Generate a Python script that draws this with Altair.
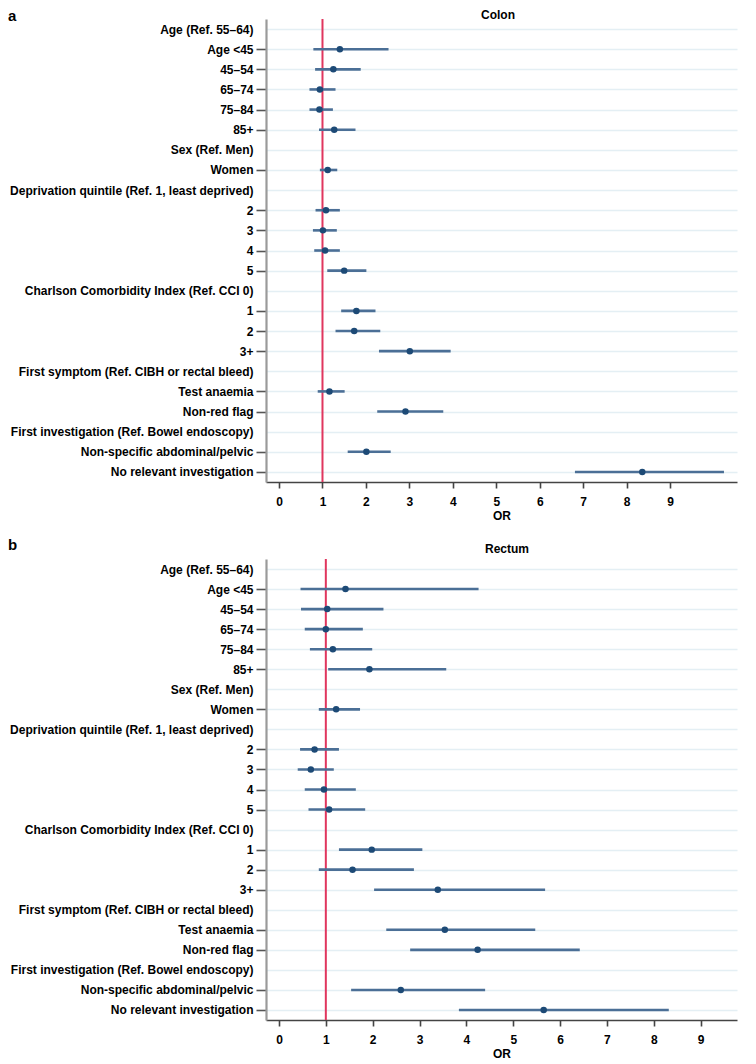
import altair as alt
import pandas as pd

labels = [
    "Age (Ref. 55–64)", "Age <45", "45–54", "65–74", "75–84", "85+",
    "Sex (Ref. Men)", "Women",
    "Deprivation quintile (Ref. 1, least deprived)", "2", "3", "4", "5",
    "Charlson Comorbidity Index (Ref. CCI 0)", "1", "2 ", "3+",
    "First symptom (Ref. CIBH or rectal bleed)", "Test anaemia", "Non-red flag",
    "First investigation (Ref. Bowel endoscopy)", "Non-specific abdominal/pelvic",
    "No relevant investigation",
]

N = None
colon_or = [N, 1.40, 1.25, 0.94, 0.93, 1.27, N, 1.12, N, 1.08, 1.01, 1.06, 1.50,
            N, 1.78, 1.73, 3.01, N, 1.16, 2.91, N, 2.01, 8.36]
colon_lo = [N, 0.79, 0.83, 0.70, 0.70, 0.92, N, 0.94, N, 0.84, 0.78, 0.81, 1.11,
            N, 1.43, 1.30, 2.30, N, 0.89, 2.26, N, 1.58, 6.81]
colon_hi = [N, 2.52, 1.88, 1.30, 1.24, 1.76, N, 1.34, N, 1.40, 1.33, 1.40, 2.01,
            N, 2.22, 2.33, 3.95, N, 1.51, 3.78, N, 2.57, 10.24]

rectum_or = [N, 1.42, 1.03, 1.00, 1.15, 1.93, N, 1.22, N, 0.76, 0.68, 0.96, 1.07,
             N, 1.98, 1.57, 3.39, N, 3.54, 4.24, N, 2.60, 5.65]
rectum_lo = [N, 0.46, 0.47, 0.55, 0.66, 1.05, N, 0.85, N, 0.45, 0.40, 0.55, 0.63,
             N, 1.28, 0.85, 2.03, N, 2.29, 2.80, N, 1.54, 3.84]
rectum_hi = [N, 4.26, 2.23, 1.79, 1.99, 3.57, N, 1.73, N, 1.28, 1.17, 1.64, 1.84,
             N, 3.06, 2.88, 5.68, N, 5.47, 6.42, N, 4.40, 8.32]

x_ticks = [0, 1, 2, 3, 4, 5, 6, 7, 8, 9]

FONT = "Liberation Sans"
CI_COLOR = "#4b6f96"
PT_COLOR = "#1d4a76"
RED = "#e0365e"
GRID = "#e4eff4"


def panel(title, letter, orv, lov, hiv, domain, height, letter_y, title_x, title_y):
    df = pd.DataFrame({"label": labels, "or": orv, "lo": lov, "hi": hiv}).dropna()
    yscale = alt.Scale(type="point", domain=labels, padding=0.5)
    yax = alt.Axis(
        title=None, grid=True, gridColor=GRID, gridWidth=1.5,
        domainColor="#9a9a9a", domainWidth=2.2,
        tickColor={"condition": {"test": "indexof(datum.value, 'Ref.') >= 0",
                                 "value": "transparent"}, "value": "#555555"},
        tickSize=10, tickWidth=1.6, labelPadding=3,
        labelFontSize=12, labelFontWeight="bold", labelColor="#000000",
        labelFont=FONT, labelLimit=400,
    )
    xscale = alt.Scale(domain=domain, nice=False, zero=False)
    xax = alt.Axis(
        title="OR", values=x_ticks, grid=False, domainColor="#444444", domainWidth=1.6,
        tickColor="#444444", tickWidth=1.6, tickSize=6, labelPadding=8,
        labelFontSize=12, labelFontWeight="bold", labelColor="#000000", labelFont=FONT,
        titleFontSize=12, titleFontWeight="bold", titleColor="#000000", titleFont=FONT,
        titlePadding=3,
    )
    base = alt.Chart(df)
    red = alt.Chart(pd.DataFrame({"v": [1]})).mark_rule(color=RED, strokeWidth=2).encode(
        x=alt.X("v:Q", scale=xscale, axis=xax)
    )
    ci = base.mark_rule(color=CI_COLOR, strokeWidth=2.6).encode(
        x=alt.X("lo:Q", scale=xscale, axis=xax),
        x2="hi:Q",
        y=alt.Y("label:N", scale=yscale, axis=yax, sort=labels),
    )
    pts = base.mark_circle(color=PT_COLOR, size=42, opacity=1).encode(
        x=alt.X("or:Q", scale=xscale, axis=xax),
        y=alt.Y("label:N", scale=yscale, axis=yax, sort=labels),
    )
    let = alt.Chart(pd.DataFrame({"t": [letter]})).mark_text(
        font=FONT, fontSize=15, fontWeight="bold", align="left", baseline="alphabetic",
        color="#000000",
    ).encode(text="t:N", x=alt.value(-258), y=alt.value(letter_y))
    ttl = alt.Chart(pd.DataFrame({"t": [title]})).mark_text(
        font=FONT, fontSize=12, fontWeight="bold", align="center", baseline="alphabetic",
        color="#000000",
    ).encode(text="t:N", x=alt.value(title_x), y=alt.value(title_y))
    return alt.layer(red, ci, pts, let, ttl).properties(width=471, height=height)


top = panel("Colon", "a", colon_or, colon_lo, colon_hi, [-0.30, 10.54], 463, 2, 232, -0.3)
bottom = panel("Rectum", "b", rectum_or, rectum_lo, rectum_hi, [-0.277, 9.776], 461, -9, 241, -6)

chart = alt.vconcat(top, bottom, spacing=17).properties(
    padding={"left": 0, "top": 0, "right": 5, "bottom": 0}
).configure_view(stroke=None)

chart.save("out.html", embed_options={"renderer": "svg", "actions": False})
